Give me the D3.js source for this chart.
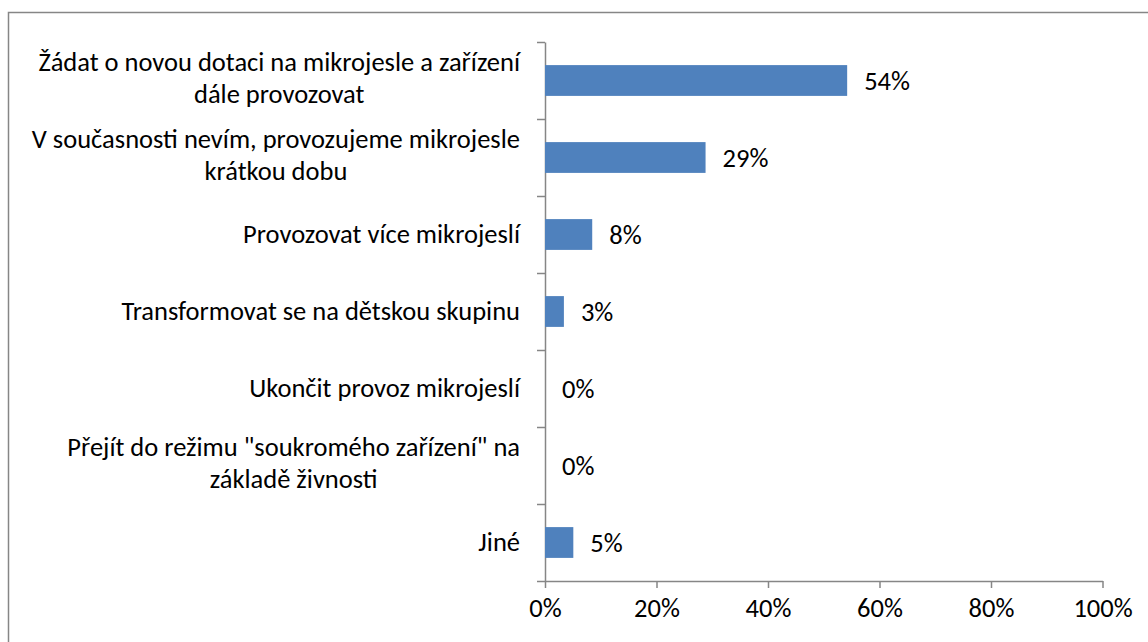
<!DOCTYPE html>
<html><head><meta charset="utf-8">
<script src="https://cdn.jsdelivr.net/npm/d3@7"></script>
<style>
  body { margin: 0; background: #fff; }
  text { font-family: Carlito, Calibri, Lato, sans-serif; fill: #000; }
</style>
</head>
<body>
<div id="chart"></div>
<script>
// categories (top to bottom), each one split in the lines Excel wrapped it into
const categories = [
  ["Žádat o novou dotaci na mikrojesle a zařízení", "dále provozovat"],
  ["V současnosti nevím, provozujeme mikrojesle", "krátkou dobu"],
  ["Provozovat více mikrojeslí"],
  ["Transformovat se na dětskou skupinu"],
  ["Ukončit provoz mikrojeslí"],
  ["Přejít do režimu \"soukromého zařízení\" na", "základě živnosti"],
  ["Jiné"]
];
// share of answers, in percent
const values = [54.2, 28.8, 8.47, 3.39, 0, 0, 5.08];
const xTicks = [0, 20, 40, 60, 80, 100];

const w = 1148, h = 642;
const fontSize = 26.5;
const axisColor = "#868686";
const barColor = "#4F81BD";

const margin = { left: 545, right: 45.5, top: 42, bottom: 61 };

const svg = d3.select("#chart")
  .append("svg")
  .attr("width", w)
  .attr("height", h);

// chart area frame
svg.append("rect")
  .attr("x", 8.5)
  .attr("y", 12.5)
  .attr("width", w + 20)
  .attr("height", h + 20)
  .attr("fill", "none")
  .attr("stroke", axisColor)
  .attr("stroke-width", 1.5);

const xScale = d3.scaleLinear()
  .domain([0, 100])
  .range([margin.left, w - margin.right]);

const ids = categories.map((c, i) => i);
const yScale = d3.scaleBand()
  .domain(ids)
  .range([margin.top, h - margin.bottom])
  .paddingInner(0.6)
  .paddingOuter(0.3);

// ticks sit between the categories
const yEdge = d3.scaleLinear()
  .domain([0, categories.length])
  .range([margin.top, h - margin.bottom]);

const yAxis = svg.append("g")
  .attr("transform", `translate(${margin.left}, 0)`)
  .call(d3.axisLeft(yEdge)
    .tickValues(d3.range(categories.length + 1))
    .tickFormat("")
    .tickSize(8)
    .tickSizeOuter(0));

const xAxis = svg.append("g")
  .attr("transform", `translate(0, ${h - margin.bottom})`)
  .call(d3.axisBottom(xScale)
    .tickValues(xTicks)
    .tickFormat(d => d + "%")
    .tickSize(7)
    .tickSizeOuter(0)
    .tickPadding(8));

[xAxis, yAxis].forEach(a => {
  a.selectAll("path").attr("stroke", axisColor).attr("stroke-width", 1.5);
  a.selectAll("line").attr("stroke", axisColor).attr("stroke-width", 1.5);
  a.selectAll("text")
    .attr("font-size", fontSize)
    .attr("fill", "#000")
    .attr("font-family", "Carlito, Calibri, Lato, sans-serif");
});
xAxis.selectAll(".tick text").attr("dy", "0.78em");

// bars
svg.selectAll(".bar")
  .data(values)
  .join("rect")
  .attr("class", "bar")
  .attr("x", xScale(0))
  .attr("y", (d, i) => yScale(i))
  .attr("width", d => xScale(d) - xScale(0))
  .attr("height", yScale.bandwidth())
  .attr("fill", barColor);

// data labels
svg.selectAll(".val")
  .data(values)
  .join("text")
  .attr("class", "val")
  .attr("x", d => xScale(d) + 17)
  .attr("y", (d, i) => yScale(i) + yScale.bandwidth() / 2 + 9)
  .attr("font-size", fontSize)
  .text(d => Math.round(d) + "%");

// category labels: block right-aligned next to the ticks, lines centred in the block
const lineH = 31.7;
const labelRight = 520;
categories.forEach((lines, i) => {
  const cy = yScale(i) + yScale.bandwidth() / 2;
  const g = svg.append("g");
  const texts = lines.map((l, j) => g.append("text")
    .attr("font-size", fontSize)
    .attr("text-anchor", "middle")
    .attr("y", cy + 8 + (j - (lines.length - 1) / 2) * lineH - (lines.length > 1 ? 1.5 : 0))
    .text(l));
  const blockW = d3.max(texts, t => t.node().getComputedTextLength());
  texts.forEach(t => t.attr("x", labelRight - blockW / 2));
});
</script>
</body></html>
